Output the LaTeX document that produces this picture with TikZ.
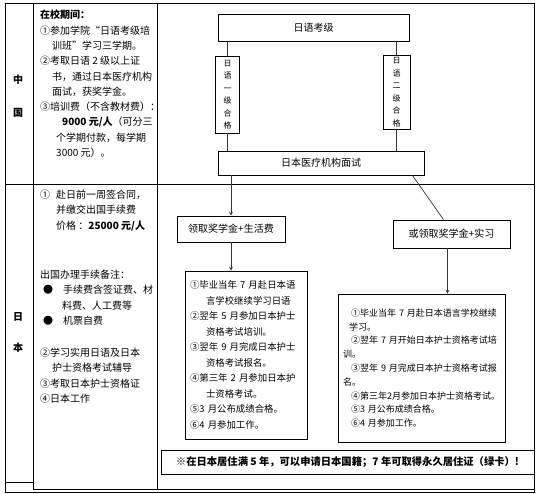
\documentclass[tikz,border=0pt]{standalone}
\usepackage{fontspec}
\setmainfont{Noto Sans CJK SC}
\usepackage{tikz}
\usetikzlibrary{positioning}

\tikzset{
  frame/.style={line width=0.8pt},
  flowbox/.style={draw, line width=0.8pt, inner sep=0pt, font=\fontsize{10}{12}\selectfont},
  vbox/.style={draw, line width=0.8pt, minimum width=24pt, inner sep=0pt, align=center, font=\fontsize{8}{12.5}\selectfont},
  listbox/.style={draw, line width=0.8pt, inner xsep=5pt, inner ysep=0pt, align=left, font=\fontsize{9.4}{15.5}\selectfont},
  coltext/.style={anchor=north west, inner sep=0pt, align=left, font=\fontsize{10}{15.3}\selectfont},
  rowlabel/.style={inner sep=0pt, font=\bfseries\fontsize{10}{12}\selectfont},
  link/.style={line width=0.7pt, draw=black!80},
}

\begin{document}
\begin{tikzpicture}[x=1pt, y=-1pt, >=stealth]
\useasboundingbox (0,0) rectangle (543,494);

% Table frame
\draw[frame] (5,3) rectangle (534,492);
\draw[frame] (33,3) -- (33,489);
\draw[frame] (157,3) -- (157,489);
\draw[frame] (5,184) -- (534,184);
\draw[frame] (5,482) -- (33,482);
\draw[frame] (33,489) -- (534,489);

% Row labels
\node[rowlabel] (cn1) at (18,80) {中};
\node[rowlabel] (cn2) at (18,113) {国};
\node[rowlabel] (jp1) at (18,317) {日};
\node[rowlabel] (jp2) at (18,348) {本};

% Second column: in school
\node[coltext] (study) at (40,10) {\textbf{在校期间：}\\
①参加学院“日语考级培\\
\hspace*{12pt}训班”学习三学期。\\
②考取日语 2 级以上证\\
\hspace*{12pt}书，通过日本医疗机构\\
\hspace*{12pt}面试，获奖学金。\\
③培训费（不含教材费）：\\
\hspace*{22pt}\textbf{9000 元/人}（可分三\\
\hspace*{16pt}个学期付款，每学期\\
\hspace*{16pt}3000 元）。};

% Second column: in Japan
\node[coltext] (abroad) at (40,190) {①\hspace{6pt}赴日前一周签合同，\\
\hspace*{16pt}并缴交出国手续费\\
\hspace*{16pt}价格 ：\textbf{25000 元/人}};
\node[coltext] (notes) at (40,270) {出国办理手续备注：\\
\hspace*{3pt}●\hspace{10pt}手续费含签证费、材\\
\hspace*{22pt}料费、人工费等\\
\hspace*{3pt}●\hspace{10pt}机票自费};
\node[coltext] (japan) at (40,348) {②学习实用日语及日本\\
\hspace*{12pt}护士资格考试辅导\\
③考取日本护士资格证\\
④日本工作};

% Flow chart
\node[flowbox, minimum width=191pt, minimum height=27pt] (exam) at (313.5,27.5) {日语考级};
\node[vbox, minimum height=77pt] (level1) at (227.5,94.5) {日\\语\\一\\级\\合\\格};
\node[vbox, minimum width=27pt, minimum height=74pt] (level2) at (396.5,92) {日\\语\\二\\级\\合\\格};
\node[flowbox, minimum width=206pt, minimum height=24pt] (interview) at (321,163) {日本医疗机构面试};
\node[flowbox, minimum width=108pt, minimum height=26pt] (living) at (231,229) {领取奖学金+生活费};
\node[flowbox, minimum width=117pt, minimum height=28pt] (intern) at (451.5,234) {或领取奖学金+实习};

\node[listbox, text width=112pt, minimum height=168pt] (planA) at (246,355) {①毕业当年 7 月赴日本语\\
\hspace*{16pt}言学校继续学习日语\\
②翌年 5 月参加日本护士\\
\hspace*{16pt}资格考试培训。\\
③翌年 9 月完成日本护士\\
\hspace*{16pt}资格考试报名。\\
④第三年 2 月参加日本护\\
\hspace*{16pt}士资格考试。\\
⑤3 月公布成绩合格。\\
⑥4 月参加工作。};

\node[listbox, font=\fontsize{9}{13.8}\selectfont, text width=157pt, minimum height=148pt] (planB) at (421.5,368) {\hspace*{8pt}①毕业当年 7 月赴日本语言学校继续\\
\hspace*{6pt}学习。\\
\hspace*{8pt}②翌年 7 月开始日本护士资格考试培\\
训。\\
\hspace*{8pt}③翌年 9 月完成日本护士资格考试报\\
名。\\
\hspace*{8pt}④第三年2月参加日本护士资格考试。\\
\hspace*{8pt}⑤3 月公布成绩合格。\\
\hspace*{8pt}⑥4 月参加工作。};

\node[flowbox, minimum width=373pt, minimum height=24pt, font=\bfseries\fontsize{10.3}{12}\selectfont] (note) at (347.5,462) {※在日本居住满 5 年，可以申请日本国籍；7 年可取得永久居住证（绿卡）!};

% Connectors
\draw[link] (level1.north) -- (level1.north |- exam.south);
\draw[link] (level1.south) -- (level1.south |- interview.north);
\draw[link] (level2.north) -- (level2.north |- exam.south);
\draw[link] (level2.south) -- (level2.south |- interview.north);
\draw[link, ->] (interview.south -| living.north) -- (living.north);
\draw[link, ->] (living.south) -- (living.south |- planA.north);
\draw[link] ([xshift=-12pt]interview.south east) -- ([xshift=-8pt]intern.north);
\coordinate (introut) at ([xshift=-4pt]intern.south);
\draw[link, ->] (introut) -- (introut |- planB.north);

\end{tikzpicture}
\end{document}
